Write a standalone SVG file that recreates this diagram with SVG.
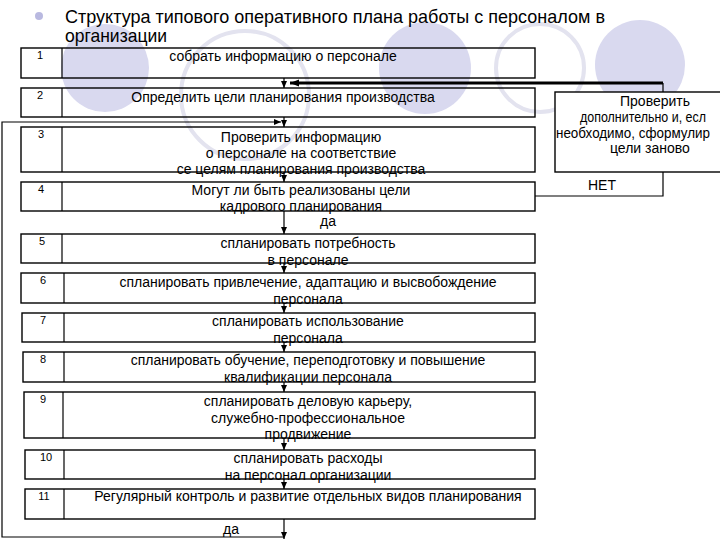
<svg xmlns="http://www.w3.org/2000/svg" width="720" height="540" viewBox="0 0 720 540">
<defs>
<marker id="ah" markerUnits="userSpaceOnUse" markerWidth="8" markerHeight="8" refX="7" refY="3" orient="auto"><path d="M0,0 L7,3 L0,6 z" fill="#000"/></marker>
<marker id="ahb" markerUnits="userSpaceOnUse" markerWidth="10" markerHeight="10" refX="9" refY="3.5" orient="auto"><path d="M0,0 L9,3.5 L0,7 z" fill="#000"/></marker>
<style>
.bg{fill:#d9d9ef}
.ring{fill:none;stroke:#e3e3ef;stroke-width:4}
.box{fill:none;stroke:#000;stroke-width:1.4}
.div{stroke:#000;stroke-width:1.2}
.num{font-family:"Liberation Sans",Arial,sans-serif;font-size:11px;fill:#000;text-anchor:middle}
.t{font-family:"Liberation Sans",Arial,sans-serif;font-size:14px;fill:#000;text-anchor:middle}
.ts{font-family:"Liberation Sans",Arial,sans-serif;font-size:14px;fill:#000}
.c{fill:none;stroke:#000;stroke-width:1.2}
.ca{fill:none;stroke:#000;stroke-width:1.2;marker-end:url(#ah)}
.title{font-family:"Liberation Sans",Arial,sans-serif;font-size:19px;fill:#000}
</style>
</defs>
<rect width="720" height="540" fill="#fff"/>
<g id="background">
<circle class="bg" cx="105" cy="68" r="44"/>
<circle class="ring" cx="245" cy="95" r="64"/>
<circle class="bg" cx="425" cy="68" r="46"/>
<circle class="ring" cx="540" cy="68" r="44"/>
<circle class="bg" cx="640" cy="65" r="45"/>
</g>
<g id="title">
<circle cx="39" cy="16" r="4" fill="#b9b9e0"/>
<text class="title" x="65" y="23" textLength="540" lengthAdjust="spacingAndGlyphs">Структура типового оперативного плана работы с персоналом в</text>
<text class="title" x="65" y="42" textLength="102" lengthAdjust="spacingAndGlyphs">организации</text>
</g>
<g id="connectors">
<line class="ca" x1="284" y1="78" x2="284" y2="88"/>
<line class="ca" x1="284" y1="117" x2="284" y2="127"/>
<line class="ca" x1="284" y1="172" x2="284" y2="182"/>
<line class="ca" x1="284" y1="211" x2="284" y2="234"/>
<line class="ca" x1="284" y1="263" x2="284" y2="273"/>
<line class="ca" x1="284" y1="303" x2="284" y2="313"/>
<line class="ca" x1="284" y1="342" x2="284" y2="352"/>
<line class="ca" x1="284" y1="382" x2="284" y2="392"/>
<line class="ca" x1="284" y1="438" x2="284" y2="450"/>
<line class="ca" x1="284" y1="479" x2="284" y2="489"/>
<line class="ca" x1="284" y1="519" x2="284" y2="539"/>
<polyline class="ca" points="284,537 2,537 2,122 281,122"/>
<polyline class="c" points="535,196 663,196 663,83"/>
<line x1="663" y1="83" x2="290" y2="83" stroke="#000" stroke-width="3" marker-end="url(#ahb)"/>
<text class="ts" x="320" y="226" font-size="11">да</text>
<text class="ts" x="223" y="534" font-size="11">да</text>
<text class="ts" x="588" y="190" font-size="12">НЕТ</text>
</g>
<g id="recheck">
<rect x="555" y="92" width="175" height="80" fill="#fff" stroke="#000" stroke-width="1.4"/>
<text class="ts" x="620" y="106">Проверить</text>
<text class="ts" x="580" y="122" font-size="13" textLength="126" lengthAdjust="spacingAndGlyphs">дополнительно и, есл</text>
<text class="ts" x="556" y="138" font-size="13" textLength="154" lengthAdjust="spacingAndGlyphs">необходимо, сформулир</text>
<text class="ts" x="610" y="153">цели заново</text>
</g>
<g id="step1"><rect class="box" x="21" y="48" width="514" height="30"/><line class="div" x1="62" y1="48" x2="62" y2="78"/><text class="num" x="40" y="59">1</text><text class="t" x="283" y="61">собрать информацию о персонале</text></g>
<g id="step2"><rect class="box" x="21" y="88" width="514" height="29"/><line class="div" x1="62" y1="88" x2="62" y2="117"/><text class="num" x="40" y="99">2</text><text class="t" x="283" y="102">Определить цели планирования производства</text></g>
<g id="step3"><rect class="box" x="21" y="127" width="514" height="45"/><line class="div" x1="62" y1="127" x2="62" y2="172"/><text class="num" x="41" y="138">3</text><text class="t" x="301" y="142">Проверить информацию</text><text class="t" x="301" y="158">о персонале на соответствие</text><text class="t" x="301" y="174">се целям планирования производства</text></g>
<g id="step4"><rect class="box" x="21" y="182" width="514" height="29"/><line class="div" x1="62" y1="182" x2="62" y2="211"/><text class="num" x="41" y="193">4</text><text class="t" x="301" y="195">Могут ли быть реализованы цели</text><text class="t" x="301" y="211">кадрового планирования</text></g>
<g id="step5"><rect class="box" x="21" y="234" width="514" height="29"/><line class="div" x1="62" y1="234" x2="62" y2="263"/><text class="num" x="42" y="245">5</text><text class="t" x="308" y="248">спланировать потребность</text><text class="t" x="308" y="265">в персонале</text></g>
<g id="step6"><rect class="box" x="21" y="273" width="514" height="30"/><line class="div" x1="64" y1="273" x2="64" y2="303"/><text class="num" x="43" y="284">6</text><text class="t" x="308" y="287">спланировать привлечение, адаптацию и высвобождение</text><text class="t" x="308" y="304">персонала</text></g>
<g id="step7"><rect class="box" x="22" y="313" width="513" height="29"/><line class="div" x1="64" y1="313" x2="64" y2="342"/><text class="num" x="43" y="324">7</text><text class="t" x="308" y="326">спланировать использование</text><text class="t" x="308" y="343">персонала</text></g>
<g id="step8"><rect class="box" x="23" y="352" width="512" height="30"/><line class="div" x1="64" y1="352" x2="64" y2="382"/><text class="num" x="43" y="363">8</text><text class="t" x="308" y="365">спланировать обучение, переподготовку и повышение</text><text class="t" x="308" y="382">квалификации персонала</text></g>
<g id="step9"><rect class="box" x="24" y="392" width="511" height="46"/><line class="div" x1="63" y1="392" x2="63" y2="438"/><text class="num" x="43" y="403">9</text><text class="t" x="308" y="406">спланировать деловую карьеру,</text><text class="t" x="308" y="423">служебно-профессиональное</text><text class="t" x="308" y="439">продвижение</text></g>
<g id="step10"><rect class="box" x="25" y="450" width="510" height="29"/><line class="div" x1="64" y1="450" x2="64" y2="479"/><text class="num" x="46" y="461">10</text><text class="t" x="308" y="463">спланировать расходы</text><text class="t" x="308" y="480">на персонал организации</text></g>
<g id="step11"><rect class="box" x="25" y="489" width="510" height="30"/><line class="div" x1="64" y1="489" x2="64" y2="519"/><text class="num" x="44" y="500">11</text><text class="t" x="308" y="501">Регулярный контроль и развитие отдельных видов планирования</text></g>
</svg>
